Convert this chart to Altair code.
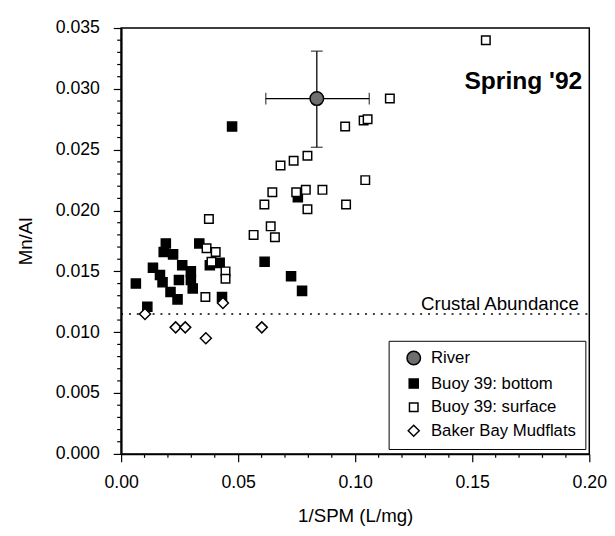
import altair as alt
import pandas as pd

# ---- data ----
bottom_x = [0.0063, 0.0112, 0.0136, 0.0166, 0.0177, 0.0191, 0.0182, 0.0222, 0.0211, 0.0241,
            0.0261, 0.0247, 0.0298, 0.0298, 0.0306, 0.0334, 0.0379, 0.0421, 0.0431, 0.0613,
            0.0474, 0.0755, 0.0726, 0.0773]
bottom_y = [0.0140, 0.0121, 0.0153, 0.0147, 0.0141, 0.0173, 0.0166, 0.0164, 0.0133, 0.0127,
            0.0155, 0.0143, 0.0150, 0.0143, 0.0136, 0.0173, 0.0155, 0.0157, 0.0129, 0.0158,
            0.0269, 0.0211, 0.0146, 0.0134]

surface_x = [0.0375, 0.0365, 0.0404, 0.0386, 0.0446, 0.0446, 0.0360, 0.0566, 0.0612, 0.0646,
             0.0639, 0.0657, 0.0681, 0.0737, 0.0796, 0.0748, 0.0789, 0.0860, 0.0796, 0.0961,
             0.1043, 0.0957, 0.1036, 0.1053, 0.1148, 0.1558]
surface_y = [0.0193, 0.0169, 0.0166, 0.0158, 0.0150, 0.0144, 0.0129, 0.0180, 0.0205, 0.0215,
             0.0187, 0.0178, 0.0237, 0.0241, 0.0245, 0.0215, 0.0217, 0.0217, 0.0201, 0.0205,
             0.0225, 0.0269, 0.0274, 0.0275, 0.0292, 0.0340]

baker_x = [0.0102, 0.0435, 0.0233, 0.0274, 0.0362, 0.0601]
baker_y = [0.0115, 0.0124, 0.0104, 0.0104, 0.0095, 0.0104]

river_x = [0.0836]
river_y = [0.0292]
river_x_lo = [0.0618]
river_x_hi = [0.1060]
river_y_lo = [0.0252]
river_y_hi = [0.0331]

crustal_y = [0.0115]

series_names = ["River", "Buoy 39: bottom", "Buoy 39: surface", "Baker Bay Mudflats"]

x_major = [0.00, 0.05, 0.10, 0.15, 0.20]
x_minor = [0.01, 0.02, 0.03, 0.04, 0.06, 0.07, 0.08, 0.09, 0.11, 0.12, 0.13, 0.14,
           0.16, 0.17, 0.18, 0.19]
y_major = [0.000, 0.005, 0.010, 0.015, 0.020, 0.025, 0.030, 0.035]
y_minor = [v / 1000 for v in range(36) if v % 5 != 0]

label_text = ["Spring '92"]
label_x = [0.197]
label_y = [0.0306]

crustal_text = ["Crustal Abundance"]
crustal_text_x = [0.1955]
crustal_text_y = [0.0118]

FONT = "Liberation Sans"
W, H = 476, 433

# ---- tables ----
pts = pd.concat([
    pd.DataFrame({"x": bottom_x, "y": bottom_y, "series": series_names[1]}),
    pd.DataFrame({"x": surface_x, "y": surface_y, "series": series_names[2]}),
    pd.DataFrame({"x": baker_x, "y": baker_y, "series": series_names[3]}),
    pd.DataFrame({"x": river_x, "y": river_y, "series": series_names[0]}),
], ignore_index=True)

river = pd.DataFrame({"x": river_x, "y": river_y, "xlo": river_x_lo, "xhi": river_x_hi,
                      "ylo": river_y_lo, "yhi": river_y_hi})

xscale = alt.Scale(domain=[0, 0.2], nice=False, zero=False)
yscale = alt.Scale(domain=[0, 0.035], nice=False, zero=False)

xaxis = alt.Axis(
    values=x_major, format=".2f", title="1/SPM (L/mg)", grid=False, tickSize=8,
    labelOverlap=False, labelFlush=False, labelFont=FONT, labelFontSize=18, labelColor="black",
    labelPadding=12,
    titleFont=FONT, titleFontSize=19, titleFontWeight="normal", titleColor="black", titlePadding=16,
    domainColor="black", domainWidth=1.5, tickColor="black", tickWidth=1.2,
)
yaxis = alt.Axis(
    values=y_major, format=".3f", title="Mn/Al", grid=False, tickSize=8,
    labelOverlap=False, labelFont=FONT, labelFontSize=18, labelColor="black", labelPadding=14,
    titleFont=FONT, titleFontSize=19, titleFontWeight="normal", titleColor="black", titlePadding=20,
    domainColor="black", domainWidth=2, tickColor="black", tickWidth=1.2,
)

X = alt.X("x:Q", scale=xscale, axis=xaxis)
Y = alt.Y("y:Q", scale=yscale, axis=yaxis)

yminor = alt.Chart(pd.DataFrame({"y": y_minor})).mark_rule(color="black", strokeWidth=1.2).encode(
    y=alt.Y("y:Q", scale=yscale), x=alt.value(0), x2=alt.value(-4))
xminor = alt.Chart(pd.DataFrame({"x": x_minor})).mark_rule(color="black", strokeWidth=1.2).encode(
    x=alt.X("x:Q", scale=xscale), y=alt.value(H), y2=alt.value(H + 4))

crustal = alt.Chart(pd.DataFrame({"y": crustal_y})).mark_rule(
    color="black", strokeDash=[2, 6], strokeWidth=1.5
).encode(y=alt.Y("y:Q", scale=yscale), x=alt.value(0), x2=alt.value(W))

hbar = alt.Chart(river).mark_rule(color="black", strokeWidth=1.3).encode(
    x=alt.X("xlo:Q", scale=xscale), x2="xhi:Q", y=alt.Y("y:Q", scale=yscale))
vbar = alt.Chart(river).mark_rule(color="black", strokeWidth=1.3).encode(
    y=alt.Y("ylo:Q", scale=yscale), y2="yhi:Q", x=alt.X("x:Q", scale=xscale))

caps_v = pd.DataFrame({"x": river_x * 2, "y": river_y_lo + river_y_hi})
caps_h = pd.DataFrame({"x": river_x_lo + river_x_hi, "y": river_y * 2})
capv = alt.Chart(caps_v).mark_tick(orient="horizontal", color="black", size=12, thickness=1.3).encode(
    x=alt.X("x:Q", scale=xscale), y=alt.Y("y:Q", scale=yscale))
caph = alt.Chart(caps_h).mark_tick(orient="vertical", color="black", size=12, thickness=1.3).encode(
    x=alt.X("x:Q", scale=xscale), y=alt.Y("y:Q", scale=yscale))

legend = alt.Legend(
    orient="none", legendX=272, legendY=318, title=None,
    strokeColor="black", fillColor="white", padding=9, cornerRadius=0,
    labelFont=FONT, labelFontSize=17, labelColor="black",
    symbolStrokeWidth=1.5, rowPadding=6,
    symbolOffset=8, labelOffset=9,
)

points = alt.Chart(pts).mark_point(filled=True, strokeWidth=1.5, opacity=1).encode(
    x=X, y=Y,
    shape=alt.Shape("series:N", scale=alt.Scale(domain=series_names,
                    range=["circle", "square", "square", "diamond"]), legend=legend),
    fill=alt.Fill("series:N", scale=alt.Scale(domain=series_names,
                  range=["#6e6e6e", "black", "white", "white"]), legend=legend),
    stroke=alt.Stroke("series:N", scale=alt.Scale(domain=series_names,
                      range=["black", "black", "black", "black"]), legend=legend),
    size=alt.Size("series:N", scale=alt.Scale(type="ordinal", domain=series_names,
                  range=[190, 85, 75, 125]), legend=legend),
)

spring = alt.Chart(pd.DataFrame({"t": label_text, "x": label_x, "y": label_y})).mark_text(
    align="right", baseline="middle", font=FONT, fontSize=25, fontWeight="bold", color="black"
).encode(x=alt.X("x:Q", scale=xscale), y=alt.Y("y:Q", scale=yscale), text="t:N")

ctext = alt.Chart(pd.DataFrame({"t": crustal_text, "x": crustal_text_x, "y": crustal_text_y})).mark_text(
    align="right", baseline="alphabetic", font=FONT, fontSize=19, color="black"
).encode(x=alt.X("x:Q", scale=xscale), y=alt.Y("y:Q", scale=yscale), text="t:N")

chart = alt.layer(yminor, xminor, crustal, hbar, vbar, capv, caph, points, spring, ctext).properties(
    width=W, height=H,
    padding={"left": 8, "top": 7, "right": 0, "bottom": 0},
    background="white",
).configure_view(stroke="black", strokeWidth=1.5)

chart.save("out.html", embed_options={"renderer": "svg", "actions": False})
